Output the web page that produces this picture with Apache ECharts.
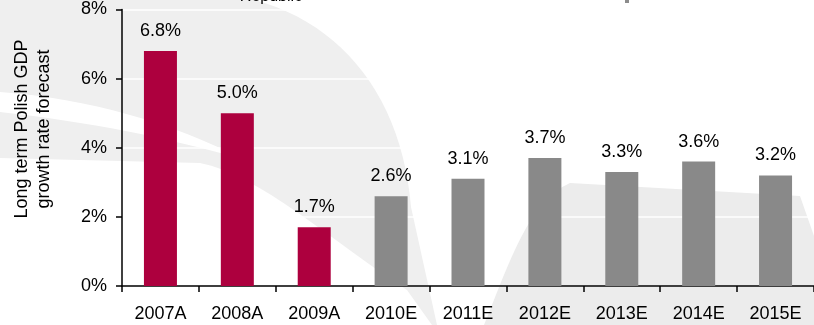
<!DOCTYPE html>
<html>
<head>
<meta charset="utf-8">
<script src="https://cdn.jsdelivr.net/npm/echarts@6/dist/echarts.min.js"></script>
<style>
  html, body { margin: 0; padding: 0; background: #ffffff; }
  #chart { width: 814px; height: 325px; }
</style>
</head>
<body>
<div id="chart"></div>
<script>
// Polish GDP growth: actuals (A) and forecasts (E), in percent
const categories = ['2007A', '2008A', '2009A', '2010E', '2011E', '2012E', '2013E', '2014E', '2015E'];
const growth = [6.8, 5.0, 1.7, 2.6, 3.1, 3.7, 3.3, 3.6, 3.2];
const yTicks = [0, 2, 4, 6, 8];

const FONT = '"Liberation Sans", Arial, Helvetica, sans-serif';
const ACTUAL = '#ad003e';
const FORECAST = '#898989';
const WASH = '#efefef';

// Sample a cubic Bezier into polygon points (used for the watermark outline)
function bez(p0, p1, p2, p3, n) {
  const pts = [];
  for (let i = 0; i <= n; i++) {
    const t = i / n, u = 1 - t;
    pts.push([
      u * u * u * p0[0] + 3 * u * u * t * p1[0] + 3 * u * t * t * p2[0] + t * t * t * p3[0],
      u * u * u * p0[1] + 3 * u * u * t * p1[1] + 3 * u * t * t * p2[1] + t * t * t * p3[1]
    ]);
  }
  return pts;
}

const swooshA = [[0, 0]]
  .concat(bez([255, 0], [345, 25], [402, 100], [411, 207], 24))
  .concat([[437, 325], [432, 325], [407, 290]])
  .concat(bez([407, 290], [330, 240], [260, 175], [200, 163], 16))
  .concat([[0, 158]]);
const streak = [[0, 92], [0, 112]]
  .concat(bez([0, 112], [90, 122], [170, 138], [245, 160], 16))
  .concat(bez([245, 160], [170, 122], [90, 99], [0, 92], 16));
const swooshB = bez([484, 325], [510, 260], [530, 200], [570, 183], 16)
  .concat([[800, 196], [814, 236], [814, 325]]);

const chart = echarts.init(document.getElementById('chart'), null, { renderer: 'canvas' });

chart.setOption({
  animation: false,
  backgroundColor: '#ffffff',
  grid: { left: 122, right: -3, top: 9.5, bottom: 39, containLabel: false },
  graphic: [
    { type: 'polygon', z: -5, silent: true, shape: { points: swooshA }, style: { fill: WASH } },
    { type: 'polygon', z: -4, silent: true, shape: { points: streak }, style: { fill: '#ffffff' } },
    { type: 'polygon', z: -5, silent: true, shape: { points: swooshB }, style: { fill: '#ececec' } },
    {
      type: 'text', z: 5, silent: true,
      x: 271, y: 5,
      style: { text: 'Republic', font: '16px ' + FONT, fill: '#000000', align: 'center', verticalAlign: 'bottom' }
    },
    {
      type: 'rect', z: 5, silent: true,
      shape: { x: 625, y: 0, width: 4, height: 3 },
      style: { fill: '#8c8c8c' }
    },
    {
      type: 'text', z: 5, silent: true,
      x: 33, y: 129, rotation: Math.PI / 2,
      style: {
        text: 'Long term Polish GDP\ngrowth rate forecast',
        font: '18px ' + FONT, fill: '#000000',
        align: 'center', verticalAlign: 'middle', lineHeight: 22
      }
    }
  ],
  xAxis: {
    type: 'category',
    data: categories,
    boundaryGap: true,
    axisLine: { show: true, lineStyle: { color: '#000000', width: 1.5 } },
    axisTick: { show: true, length: 6, lineStyle: { color: '#000000', width: 1.5 } },
    axisLabel: { color: '#000000', fontFamily: FONT, fontSize: 18, margin: 19 },
    splitLine: { show: false }
  },
  yAxis: {
    type: 'value',
    min: yTicks[0],
    max: yTicks[yTicks.length - 1],
    interval: 2,
    axisLine: { show: true, lineStyle: { color: '#000000', width: 1.5 } },
    axisTick: { show: true, length: 6, lineStyle: { color: '#000000', width: 1.5 } },
    axisLabel: { color: '#000000', fontFamily: FONT, fontSize: 18, margin: 15, formatter: '{value}%' },
    splitLine: { show: true, lineStyle: { color: '#ffffff', width: 1.5 } }
  },
  series: [{
    type: 'bar',
    data: growth,
    barWidth: 33,
    itemStyle: {
      color: (p) => (p.name.endsWith('A') ? ACTUAL : FORECAST)
    },
    label: {
      show: true,
      position: 'top',
      distance: 11,
      color: '#000000',
      fontFamily: FONT,
      fontSize: 18,
      formatter: (p) => p.value.toFixed(1) + '%'
    }
  }]
});
</script>
</body>
</html>
